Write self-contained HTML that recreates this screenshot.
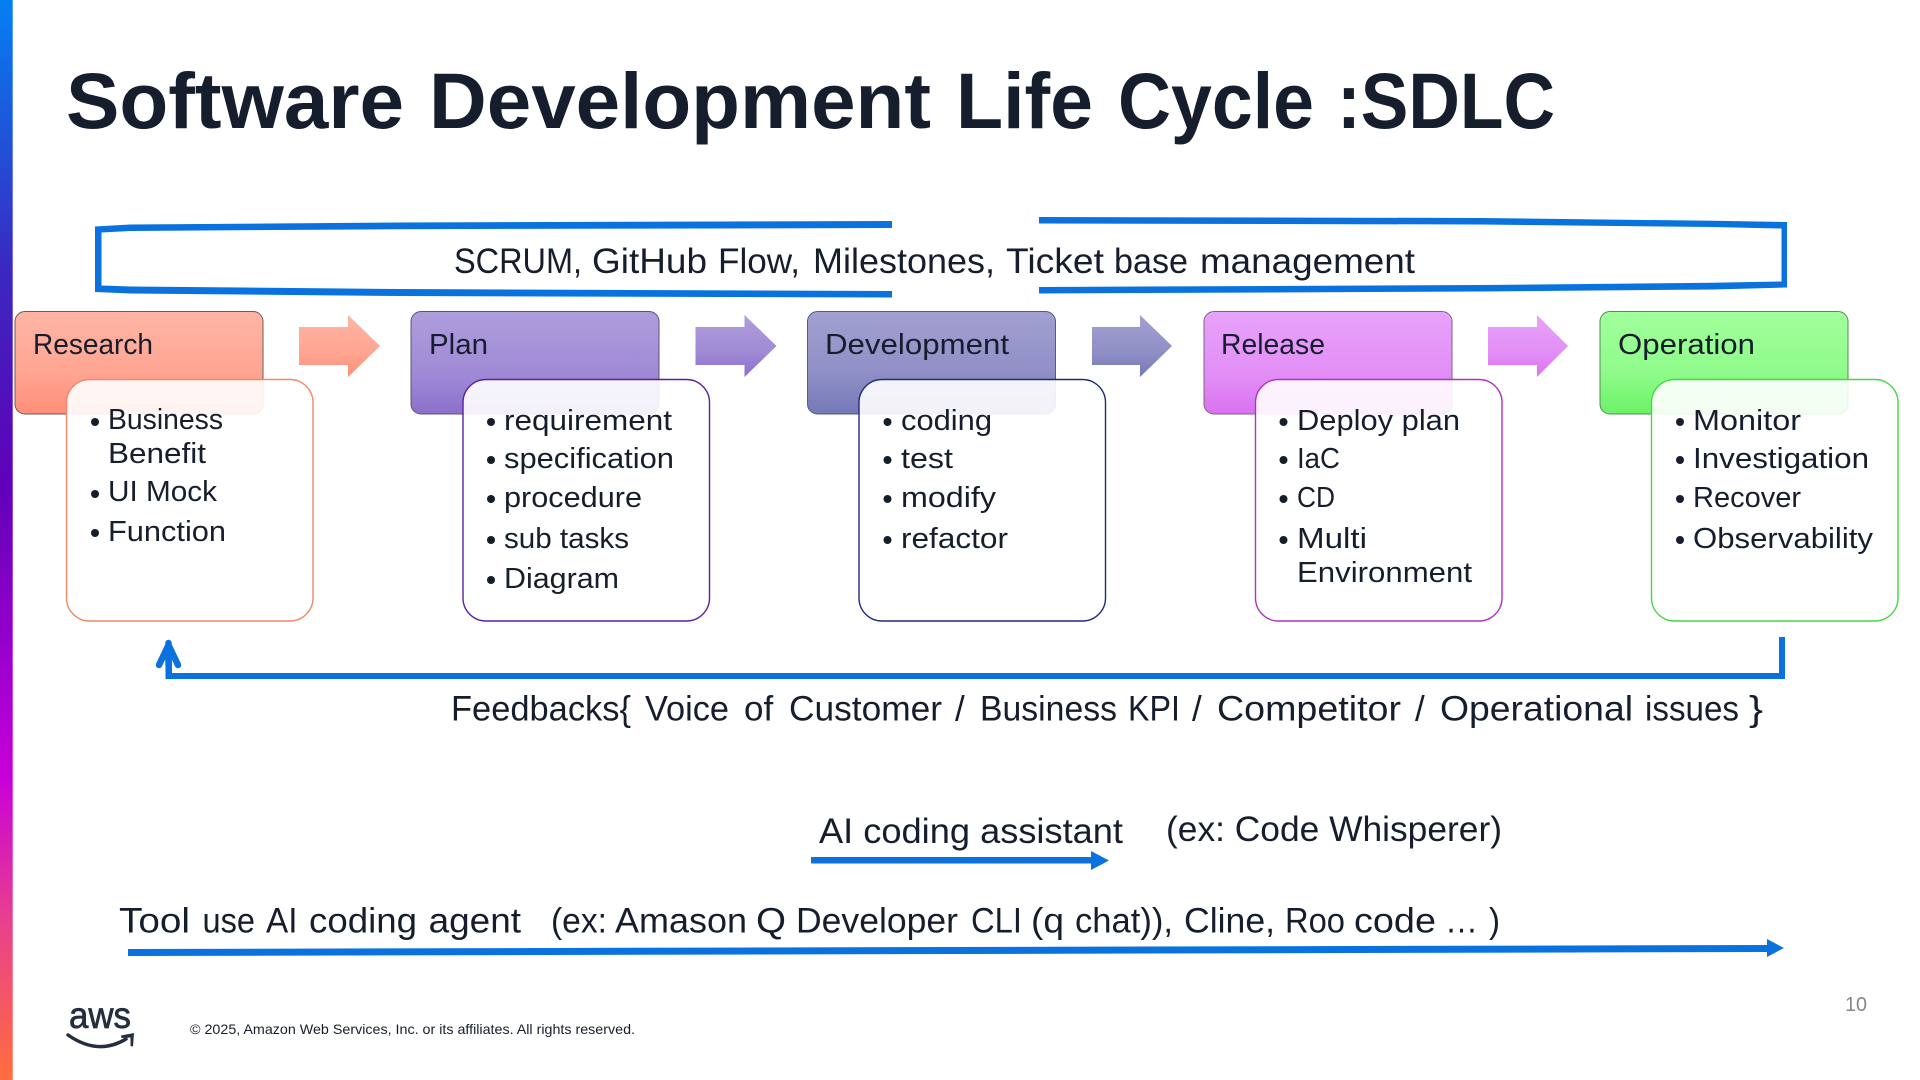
<!DOCTYPE html>
<html><head><meta charset="utf-8"><title>SDLC</title>
<style>html,body{margin:0;padding:0;background:#fff}svg{display:block}text{font-family:"Liberation Sans",sans-serif;fill:#161e2d}</style></head>
<body>
<svg width="1920" height="1080" viewBox="0 0 1920 1080" xmlns="http://www.w3.org/2000/svg">
<defs>
<linearGradient id="bar" x1="0" y1="0" x2="0" y2="1"><stop offset="0" stop-color="#0480f2"/><stop offset=".25" stop-color="#3a28c0"/><stop offset=".45" stop-color="#6000b8"/><stop offset=".62" stop-color="#a000d0"/><stop offset=".72" stop-color="#c800d8"/><stop offset=".85" stop-color="#e83f90"/><stop offset="1" stop-color="#ff6e3c"/></linearGradient>
<linearGradient id="g1" x1="0" y1="0" x2="0" y2="1"><stop offset="0" stop-color="#ffb5a5"/><stop offset=".6" stop-color="#ffa592"/><stop offset="1" stop-color="#ff8e78"/></linearGradient>
<linearGradient id="g2" x1="0" y1="0" x2="0" y2="1"><stop offset="0" stop-color="#ae9edd"/><stop offset=".6" stop-color="#a08ad6"/><stop offset="1" stop-color="#8c70ca"/></linearGradient>
<linearGradient id="g3" x1="0" y1="0" x2="0" y2="1"><stop offset="0" stop-color="#a3a0d2"/><stop offset=".6" stop-color="#8f8fc6"/><stop offset="1" stop-color="#7479b6"/></linearGradient>
<linearGradient id="g4" x1="0" y1="0" x2="0" y2="1"><stop offset="0" stop-color="#e8a2fb"/><stop offset=".6" stop-color="#e28ff6"/><stop offset="1" stop-color="#da72f0"/></linearGradient>
<linearGradient id="g5" x1="0" y1="0" x2="0" y2="1"><stop offset="0" stop-color="#a2ff9c"/><stop offset=".6" stop-color="#8ffb8a"/><stop offset="1" stop-color="#6cf268"/></linearGradient>
</defs>
<rect x="0" y="0" width="12.7" height="1080" fill="url(#bar)"/>

<g font-size="79" font-weight="700">
<text x="66" y="128" font-size="79" font-weight="700" textLength="338" lengthAdjust="spacingAndGlyphs">Software</text>
<text x="429" y="128" font-size="79" font-weight="700" textLength="502" lengthAdjust="spacingAndGlyphs">Development</text>
<text x="956" y="128" font-size="79" font-weight="700" textLength="137" lengthAdjust="spacingAndGlyphs">Life</text>
<text x="1118" y="128" font-size="79" font-weight="700" textLength="196" lengthAdjust="spacingAndGlyphs">Cycle</text>
<text x="1337" y="128" font-size="79" font-weight="700" textLength="218" lengthAdjust="spacingAndGlyphs">:SDLC</text>
</g>

<!-- top bracket -->
<polygon fill="#0972de" points="892,221 400,222.5 130,224.5 95,226.5 95,292 130,293.5 400,296 892,297.5 892,291 400,289 130,286.5 101.5,285.5 101.5,232.5 130,231 400,229.2 892,228"/>
<polygon fill="#0972de" points="1039,217 1480,218 1713,220.8 1787,222 1787,287.5 1713,289.5 1480,291.5 1039,293.5 1039,287 1480,285 1713,282.8 1781.5,281.5 1781.5,228.5 1713,227 1480,224.5 1039,223.5"/>
<g>
<text x="454" y="273" font-size="35" textLength="128" lengthAdjust="spacingAndGlyphs">SCRUM,</text>
<text x="592" y="273" font-size="35" textLength="115" lengthAdjust="spacingAndGlyphs">GitHub</text>
<text x="718" y="273" font-size="35" textLength="82" lengthAdjust="spacingAndGlyphs">Flow,</text>
<text x="813" y="273" font-size="35" textLength="182" lengthAdjust="spacingAndGlyphs">Milestones,</text>
<text x="1006" y="273" font-size="35" textLength="98" lengthAdjust="spacingAndGlyphs">Ticket</text>
<text x="1114" y="273" font-size="35" textLength="74" lengthAdjust="spacingAndGlyphs">base</text>
<text x="1200" y="273" font-size="35" textLength="215" lengthAdjust="spacingAndGlyphs">management</text>
</g>

<!-- chevrons -->
<polygon fill="url(#g1)" points="299,327 348,327 348,315 380,346 348,377 348,365 299,365"/>
<polygon fill="url(#g2)" points="695.5,327 744.5,327 744.5,315 776.5,346 744.5,377 744.5,365 695.5,365"/>
<polygon fill="url(#g3)" points="1092,327 1140,327 1140,315 1172,346 1140,377 1140,365 1092,365"/>
<polygon fill="url(#g4)" points="1488,327 1537,327 1537,315 1568,346 1537,377 1537,365 1488,365"/>

<!-- headers -->
<rect x="15" y="311.5" width="248" height="102.5" rx="10" fill="url(#g1)" stroke="#6e5a58" stroke-width="1"/>
<rect x="411" y="311.5" width="248" height="102.5" rx="10" fill="url(#g2)" stroke="#5a5080" stroke-width="1"/>
<rect x="807.5" y="311.5" width="248" height="102.5" rx="10" fill="url(#g3)" stroke="#555a80" stroke-width="1"/>
<rect x="1204" y="311.5" width="248" height="102.5" rx="10" fill="url(#g4)" stroke="#80608a" stroke-width="1"/>
<rect x="1600" y="311.5" width="248" height="102.5" rx="10" fill="url(#g5)" stroke="#4f8f50" stroke-width="1"/>
<text x="33" y="354" font-size="29" textLength="120" lengthAdjust="spacingAndGlyphs">Research</text>
<text x="429" y="354" font-size="29" textLength="59" lengthAdjust="spacingAndGlyphs">Plan</text>
<text x="825" y="354" font-size="29" textLength="184" lengthAdjust="spacingAndGlyphs">Development</text>
<text x="1221" y="354" font-size="29" textLength="104" lengthAdjust="spacingAndGlyphs">Release</text>
<text x="1618" y="354" font-size="29" textLength="137" lengthAdjust="spacingAndGlyphs">Operation</text>

<!-- detail boxes -->
<rect x="66.5" y="379.5" width="246.5" height="241.5" rx="23" fill="#fff" fill-opacity=".9" stroke="#f0876a" stroke-width="1.4"/>
<rect x="463" y="379.5" width="246.5" height="241.5" rx="23" fill="#fff" fill-opacity=".9" stroke="#5a1fa0" stroke-width="1.4"/>
<rect x="859" y="379.5" width="246.5" height="241.5" rx="23" fill="#fff" fill-opacity=".9" stroke="#1f2a80" stroke-width="1.4"/>
<rect x="1255.5" y="379.5" width="246.5" height="241.5" rx="23" fill="#fff" fill-opacity=".9" stroke="#b030c0" stroke-width="1.4"/>
<rect x="1651.5" y="379.5" width="246.5" height="241.5" rx="23" fill="#fff" fill-opacity=".9" stroke="#45d845" stroke-width="1.4"/>

<!-- lists -->
<g fill="#161e2d">
<circle cx="95" cy="422" r="4"/><circle cx="95" cy="494" r="4"/><circle cx="95" cy="533" r="4"/>
<circle cx="491" cy="422" r="4"/><circle cx="491" cy="460" r="4"/><circle cx="491" cy="499" r="4"/><circle cx="491" cy="540" r="4"/><circle cx="491" cy="580" r="4"/>
<circle cx="887.5" cy="422" r="4"/><circle cx="887.5" cy="460" r="4"/><circle cx="887.5" cy="499" r="4"/><circle cx="887.5" cy="540" r="4"/>
<circle cx="1283.5" cy="422" r="4"/><circle cx="1283.5" cy="460" r="4"/><circle cx="1283.5" cy="499" r="4"/><circle cx="1283.5" cy="540" r="4"/>
<circle cx="1680" cy="422" r="4"/><circle cx="1680" cy="460" r="4"/><circle cx="1680" cy="499" r="4"/><circle cx="1680" cy="540" r="4"/>
</g>
<g>
<text x="108" y="429" font-size="29" textLength="115" lengthAdjust="spacingAndGlyphs">Business</text>
<text x="108" y="463" font-size="29" textLength="98" lengthAdjust="spacingAndGlyphs">Benefit</text>
<text x="108" y="501" font-size="29" textLength="109" lengthAdjust="spacingAndGlyphs">UI Mock</text>
<text x="108" y="541" font-size="29" textLength="118" lengthAdjust="spacingAndGlyphs">Function</text>

<text x="504" y="430" font-size="29" textLength="168" lengthAdjust="spacingAndGlyphs">requirement</text>
<text x="504" y="468" font-size="29" textLength="170" lengthAdjust="spacingAndGlyphs">specification</text>
<text x="504" y="507" font-size="29" textLength="138" lengthAdjust="spacingAndGlyphs">procedure</text>
<text x="504" y="548" font-size="29" textLength="125" lengthAdjust="spacingAndGlyphs">sub tasks</text>
<text x="504" y="588" font-size="29" textLength="115" lengthAdjust="spacingAndGlyphs">Diagram</text>

<text x="901" y="430" font-size="29" textLength="91" lengthAdjust="spacingAndGlyphs">coding</text>
<text x="901" y="468" font-size="29" textLength="52" lengthAdjust="spacingAndGlyphs">test</text>
<text x="901" y="507" font-size="29" textLength="95" lengthAdjust="spacingAndGlyphs">modify</text>
<text x="901" y="548" font-size="29" textLength="107" lengthAdjust="spacingAndGlyphs">refactor</text>

<text x="1297" y="430" font-size="29" textLength="163" lengthAdjust="spacingAndGlyphs">Deploy plan</text>
<text x="1297" y="468" font-size="29" textLength="43" lengthAdjust="spacingAndGlyphs">IaC</text>
<text x="1297" y="507" font-size="29" textLength="38" lengthAdjust="spacingAndGlyphs">CD</text>
<text x="1297" y="548" font-size="29" textLength="70" lengthAdjust="spacingAndGlyphs">Multi</text>
<text x="1297" y="582" font-size="29" textLength="175" lengthAdjust="spacingAndGlyphs">Environment</text>

<text x="1693" y="430" font-size="29" textLength="108" lengthAdjust="spacingAndGlyphs">Monitor</text>
<text x="1693" y="468" font-size="29" textLength="176" lengthAdjust="spacingAndGlyphs">Investigation</text>
<text x="1693" y="507" font-size="29" textLength="108" lengthAdjust="spacingAndGlyphs">Recover</text>
<text x="1693" y="548" font-size="29" textLength="180" lengthAdjust="spacingAndGlyphs">Observability</text>
</g>

<!-- feedback connector -->
<polygon fill="#0972de" points="1779,637 1785,637 1785,679 165.5,679 165.5,660 172,660 172,673 1779,673"/>
<path d="M168.5,643 L168.5,665 M159,665 L168.5,645 L178,665" fill="none" stroke="#0972de" stroke-width="6.5" stroke-linecap="round" stroke-linejoin="round"/>
<g>
<text x="451" y="720.5" font-size="35" textLength="180" lengthAdjust="spacingAndGlyphs">Feedbacks{</text>
<text x="645" y="720.5" font-size="35" textLength="84" lengthAdjust="spacingAndGlyphs">Voice</text>
<text x="744" y="720.5" font-size="35">of</text>
<text x="789" y="720.5" font-size="35" textLength="153" lengthAdjust="spacingAndGlyphs">Customer</text>
<text x="955" y="720.5" font-size="35">/</text>
<text x="980" y="720.5" font-size="35" textLength="137" lengthAdjust="spacingAndGlyphs">Business</text>
<text x="1128" y="720.5" font-size="35" textLength="52" lengthAdjust="spacingAndGlyphs">KPI</text>
<text x="1192" y="720.5" font-size="35">/</text>
<text x="1217" y="720.5" font-size="35" textLength="184" lengthAdjust="spacingAndGlyphs">Competitor</text>
<text x="1415" y="720.5" font-size="35">/</text>
<text x="1440" y="720.5" font-size="35" textLength="193" lengthAdjust="spacingAndGlyphs">Operational</text>
<text x="1645" y="720.5" font-size="35" textLength="94" lengthAdjust="spacingAndGlyphs">issues</text>
<text x="1749" y="720.5" font-size="35" textLength="14" lengthAdjust="spacingAndGlyphs">}</text>
</g>

<!-- AI assistant -->
<text x="819" y="843" font-size="35" textLength="304" lengthAdjust="spacingAndGlyphs">AI coding assistant</text>
<text x="1166" y="841" font-size="35" textLength="336" lengthAdjust="spacingAndGlyphs">(ex: Code Whisperer)</text>
<polygon fill="#0972de" points="811,857 1091,857 1091,851 1109,860.5 1091,870 1091,863.5 811,863.5"/>

<!-- Tool use -->
<g>
<text x="119" y="932.5" font-size="35" textLength="71" lengthAdjust="spacingAndGlyphs">Tool</text>
<text x="202.5" y="932.5" font-size="35" textLength="52.5" lengthAdjust="spacingAndGlyphs">use</text>
<text x="266" y="932.5" font-size="35" textLength="31.5" lengthAdjust="spacingAndGlyphs">AI</text>
<text x="309" y="932.5" font-size="35" textLength="108" lengthAdjust="spacingAndGlyphs">coding</text>
<text x="428.6" y="932.5" font-size="35" textLength="92.4" lengthAdjust="spacingAndGlyphs">agent</text>
<text x="551" y="932.5" font-size="35" textLength="56" lengthAdjust="spacingAndGlyphs">(ex:</text>
<text x="615" y="932.5" font-size="35" textLength="132" lengthAdjust="spacingAndGlyphs">Amason</text>
<text x="756" y="932.5" font-size="35" textLength="30" lengthAdjust="spacingAndGlyphs">Q</text>
<text x="796" y="932.5" font-size="35" textLength="162" lengthAdjust="spacingAndGlyphs">Developer</text>
<text x="971" y="932.5" font-size="35" textLength="51" lengthAdjust="spacingAndGlyphs">CLI</text>
<text x="1031" y="932.5" font-size="35" textLength="33" lengthAdjust="spacingAndGlyphs">(q</text>
<text x="1075" y="932.5" font-size="35" textLength="98" lengthAdjust="spacingAndGlyphs">chat)),</text>
<text x="1184" y="932.5" font-size="35" textLength="91" lengthAdjust="spacingAndGlyphs">Cline,</text>
<text x="1285" y="932.5" font-size="35" textLength="60" lengthAdjust="spacingAndGlyphs">Roo</text>
<text x="1354" y="932.5" font-size="35" textLength="82" lengthAdjust="spacingAndGlyphs">code</text>
<text x="1445" y="932.5" font-size="35" textLength="33" lengthAdjust="spacingAndGlyphs">…</text>
<text x="1489" y="932.5" font-size="35" textLength="11" lengthAdjust="spacingAndGlyphs">)</text>
</g>
<polygon fill="#0972de" points="128,949 1767,945 1767,939 1784,948 1767,957 1767,952 128,956"/>

<!-- footer -->
<text x="69" y="1028" font-size="37" textLength="62" lengthAdjust="spacingAndGlyphs" style="fill:#232f3e;stroke:#232f3e;stroke-width:.7">aws</text>
<path d="M68,1035 Q98,1056 126,1039" fill="none" stroke="#232f3e" stroke-width="3.5" stroke-linecap="round"/>
<polygon fill="#232f3e" points="121,1035.5 134,1033 133,1046.5 130.5,1046 130.5,1037.5 121.5,1038"/>
<text x="190" y="1034" font-size="14" textLength="445" lengthAdjust="spacingAndGlyphs">© 2025, Amazon Web Services, Inc. or its affiliates. All rights reserved.</text>
<text x="1845" y="1011" font-size="20" textLength="22" lengthAdjust="spacingAndGlyphs" style="fill:#888">10</text>
</svg>
</body></html>
